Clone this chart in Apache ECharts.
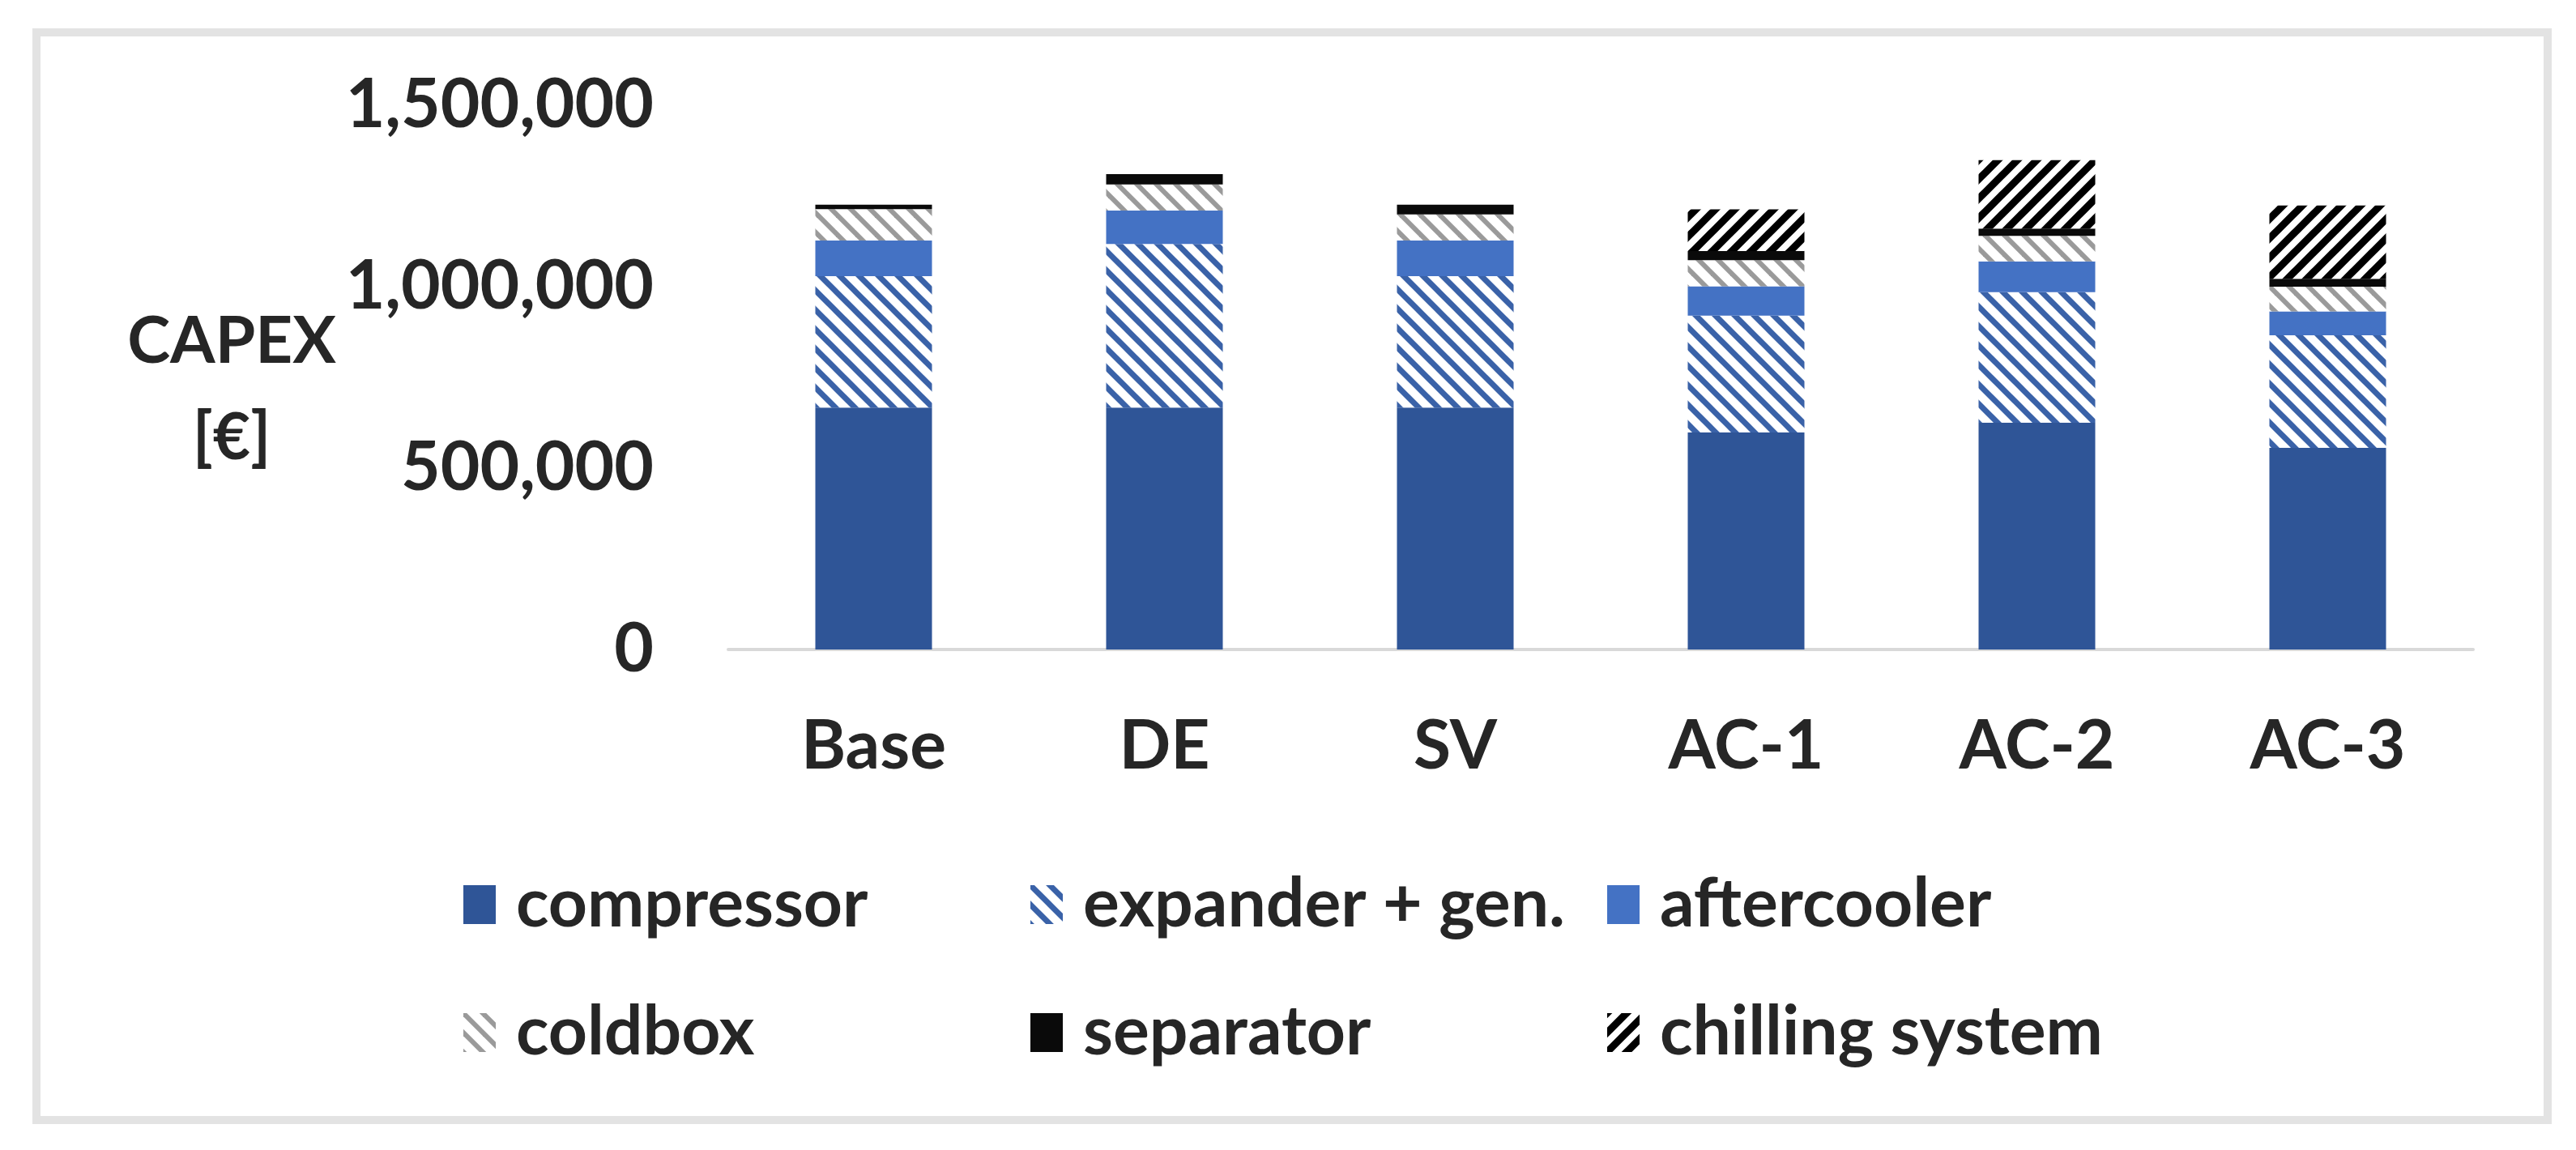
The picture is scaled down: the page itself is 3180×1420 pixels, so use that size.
<!DOCTYPE html>
<html>
<head>
<meta charset="utf-8">
<script src="https://cdn.jsdelivr.net/npm/echarts@6/dist/echarts.min.js"></script>
<style>
html,body{margin:0;padding:0;background:#fff;}
#chart{width:3180px;height:1420px;}
</style>
</head>
<body>
<div id="chart"></div>
<script>
// ---- data ----
const categories = ['Base', 'DE', 'SV', 'AC-1', 'AC-2', 'AC-3'];
const compressor = [667000, 667000, 667000, 598000, 625000, 556000];
const expanderGen = [362000, 451000, 362000, 322000, 360000, 310000];
const aftercooler = [98000, 92000, 98000, 81000, 85000, 66000];
const coldbox = [87000, 72000, 72000, 72000, 70000, 68000];
const separator = [12000, 28000, 27000, 25000, 20000, 22000];
const chillingSystem = [0, 0, 0, 115000, 189000, 202000];
const yTicks = [0, 500000, 1000000, 1500000];
const seriesNames = ['compressor', 'expander + gen.', 'aftercooler', 'coldbox', 'separator', 'chilling system'];

// ---- hatch patterns ----
function hatch(color, lw, p, dir) {
  const c = document.createElement('canvas');
  c.width = p; c.height = p;
  const g = c.getContext('2d');
  g.fillStyle = '#ffffff';
  g.fillRect(0, 0, p, p);
  g.strokeStyle = color;
  g.lineWidth = lw;
  g.lineCap = 'square';
  for (let k = -1; k <= 1; k++) {
    g.beginPath();
    if (dir === 'back') { g.moveTo(k * p, 0); g.lineTo(k * p + p, p); }
    else { g.moveTo(k * p, p); g.lineTo(k * p + p, 0); }
    g.stroke();
  }
  return { image: c, repeat: 'repeat' };
}

const FONT = 'Lato';
const FS = 84;
const chart = echarts.init(document.getElementById('chart'), null, { renderer: 'canvas' });

const colors = [
  '#2F5597',
  hatch('#3a62a8', 7, 24, 'back'),
  '#4472C4',
  hatch('#9a9a9a', 6, 24, 'back'),
  '#0a0a0a',
  hatch('#000000', 9, 24, 'fwd')
];
const dataArr = [compressor, expanderGen, aftercooler, coldbox, separator, chillingSystem];

const series = seriesNames.map((n, i) => ({
  name: n,
  type: 'bar',
  stack: 'total',
  barWidth: 144,
  data: dataArr[i],
  itemStyle: { color: colors[i] },
  emphasis: { disabled: true }
}));

const legendPos = [
  [567, 1112], [1267, 1112], [1979, 1112],
  [567, 1270], [1267, 1270], [1979, 1270]
];
const legends = seriesNames.map((n, i) => ({
  data: [n],
  left: legendPos[i][0],
  top: legendPos[i][1] - 45,
  icon: 'rect',
  itemWidth: 40,
  itemHeight: 48,
  itemGap: 0,
  selectedMode: false,
  textStyle: { fontFamily: FONT, fontWeight: 'bold', fontSize: FS, color: '#262626', lineHeight: 90, padding: [0, 0, 0, 20] }
}));

chart.setOption({
  animation: false,
  backgroundColor: '#ffffff',
  graphic: [
    { type: 'rect', shape: { x: 45, y: 40, width: 3100, height: 1343 }, style: { fill: 'none', stroke: '#e3e3e3', lineWidth: 10 }, silent: true },
    { type: 'text', x: 286, y: 422, style: { text: 'CAPEX', fontFamily: FONT, fontWeight: 'bold', fontSize: 80, fill: '#262626', align: 'center', verticalAlign: 'middle' } },
    { type: 'text', x: 286, y: 541, style: { text: '[€]', fontFamily: FONT, fontWeight: 'bold', fontSize: 80, fill: '#262626', align: 'center', verticalAlign: 'middle' } }
  ],
  legend: legends,
  grid: { left: 899, right: 127, top: 130, bottom: 618, containLabel: false },
  xAxis: {
    type: 'category',
    data: categories,
    axisLine: { show: true, lineStyle: { color: '#d9d9d9', width: 4 } },
    axisTick: { show: false },
    axisLabel: { margin: 78, fontFamily: FONT, fontWeight: 'bold', fontSize: FS, color: '#262626' }
  },
  yAxis: {
    type: 'value',
    min: yTicks[0],
    max: yTicks[yTicks.length - 1],
    interval: yTicks[1] - yTicks[0],
    axisLine: { show: false },
    axisTick: { show: false },
    splitLine: { show: false },
    axisLabel: {
      margin: 92,
      fontFamily: FONT, fontWeight: 'bold', fontSize: FS, color: '#262626',
      formatter: v => v.toLocaleString('en-US')
    }
  },
  series: series
});
</script>
</body>
</html>
